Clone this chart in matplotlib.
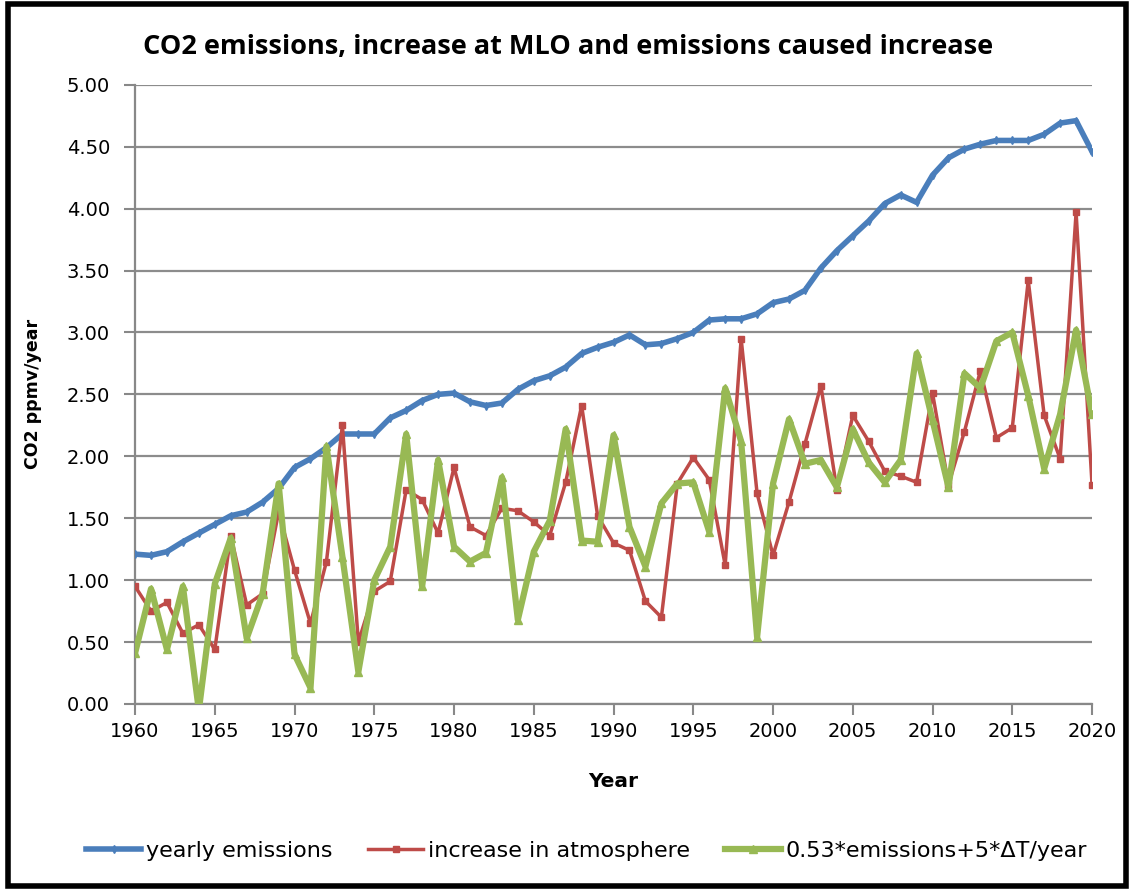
import numpy as np
import matplotlib
matplotlib.use('Agg')
import matplotlib.pyplot as plt
from matplotlib.patches import Rectangle

years = np.arange(1960, 2021)

# yearly emissions (ppmv/year)
emissions = [1.21, 1.20, 1.23, 1.31, 1.38, 1.45, 1.52, 1.55, 1.63, 1.74,
             1.91, 1.98, 2.07, 2.18, 2.18, 2.18, 2.31, 2.37, 2.45, 2.50,
             2.51, 2.44, 2.41, 2.43, 2.54, 2.61, 2.65, 2.72, 2.83, 2.88,
             2.92, 2.98, 2.90, 2.91, 2.95, 3.00, 3.10, 3.11, 3.11, 3.15,
             3.24, 3.27, 3.34, 3.52, 3.66, 3.78, 3.90, 4.04, 4.11, 4.05,
             4.27, 4.41, 4.48, 4.52, 4.55, 4.55, 4.55, 4.60, 4.69, 4.71,
             4.46]

# increase at MLO
increase = [0.95, 0.75, 0.82, 0.57, 0.64, 0.44, 1.36, 0.80, 0.89, 1.55,
            1.08, 0.65, 1.15, 2.25, 0.50, 0.91, 0.99, 1.73, 1.65, 1.38,
            1.91, 1.43, 1.36, 1.58, 1.56, 1.47, 1.36, 1.79, 2.41, 1.52,
            1.30, 1.24, 0.83, 0.70, 1.78, 1.99, 1.81, 1.12, 2.95, 1.70,
            1.20, 1.63, 2.10, 2.57, 1.73, 2.33, 2.12, 1.88, 1.84, 1.79,
            2.51, 1.77, 2.20, 2.69, 2.15, 2.23, 3.42, 2.33, 1.98, 3.97,
            1.77]

# 0.53*emissions + 5*dT/year
model = [0.41, 0.93, 0.44, 0.95, -0.05, 0.97, 1.34, 0.53, 0.89, 1.78,
         0.40, 0.13, 2.08, 1.19, 0.26, 1.00, 1.27, 2.18, 0.95, 1.97,
         1.27, 1.15, 1.22, 1.83, 0.68, 1.23, 1.48, 2.22, 1.32, 1.31,
         2.17, 1.43, 1.11, 1.62, 1.78, 1.79, 1.39, 2.55, 2.12, 0.54,
         1.78, 2.30, 1.94, 1.97, 1.75, 2.22, 1.95, 1.79, 1.97, 2.83,
         2.29, 1.75, 2.67, 2.55, 2.93, 3.00, 2.49, 1.90, 2.34, 3.02,
         2.34]

xticks = np.arange(1960, 2021, 5)
yticks = np.arange(0, 5.01, 0.5)

fig = plt.figure(figsize=(11.32, 8.9), dpi=100)
ax = fig.add_axes([0.1193, 0.2090, 0.8454, 0.6958])

ax.plot(years, emissions, color='#4A7EBB', lw=4, marker='d', ms=4,
        label='yearly emissions', zorder=3)
ax.plot(years, increase, color='#BE4B48', lw=2.5, marker='s', ms=5,
        label='increase in atmosphere', zorder=4)
ax.plot(years, model, color='#98B954', lw=4.5, marker='^', ms=6,
        label='0.53*emissions+5*\u0394T/year', zorder=5)

ax.set_xlim(1960, 2020)
ax.set_ylim(0, 5)
ax.set_xticks(xticks)
ax.set_yticks(yticks)
ax.set_yticklabels([f'{v:.2f}' for v in yticks])
ax.tick_params(axis='both', labelsize=14, length=8, width=1.5, color='#888888',
               direction='out', pad=5)
ax.tick_params(axis='y', pad=10)
ax.grid(axis='y', color='#8c8c8c', lw=1.6)
ax.set_axisbelow(True)
for s in ['top', 'right']:
    ax.spines[s].set_visible(False)
for s in ['left', 'bottom']:
    ax.spines[s].set_color('#888888')
    ax.spines[s].set_linewidth(1.6)

ax.set_xlabel('Year', fontsize=14.5, fontweight='bold', labelpad=22)
ax.set_ylabel('CO2 ppmv/year', fontsize=12.5, fontweight='bold', labelpad=18)

fig.text(0.502, 0.947, 'CO2 emissions, increase at MLO and emissions caused increase',
         ha='center', va='center', fontsize=19.5, fontweight='bold',
         family=['Open Sans', 'DejaVu Sans'])

leg = fig.legend(loc='center', bbox_to_anchor=(0.518, 0.044), ncol=3, frameon=False,
                 prop={'size': 16},
                 handlelength=2.5, handletextpad=0.2, columnspacing=1.6)

# outer frame
fig.patches.append(Rectangle((0.007, 0.005), 0.988, 0.99, transform=fig.transFigure,
                             fill=False, edgecolor='black', lw=4))

fig.savefig('out.png', dpi=100)
